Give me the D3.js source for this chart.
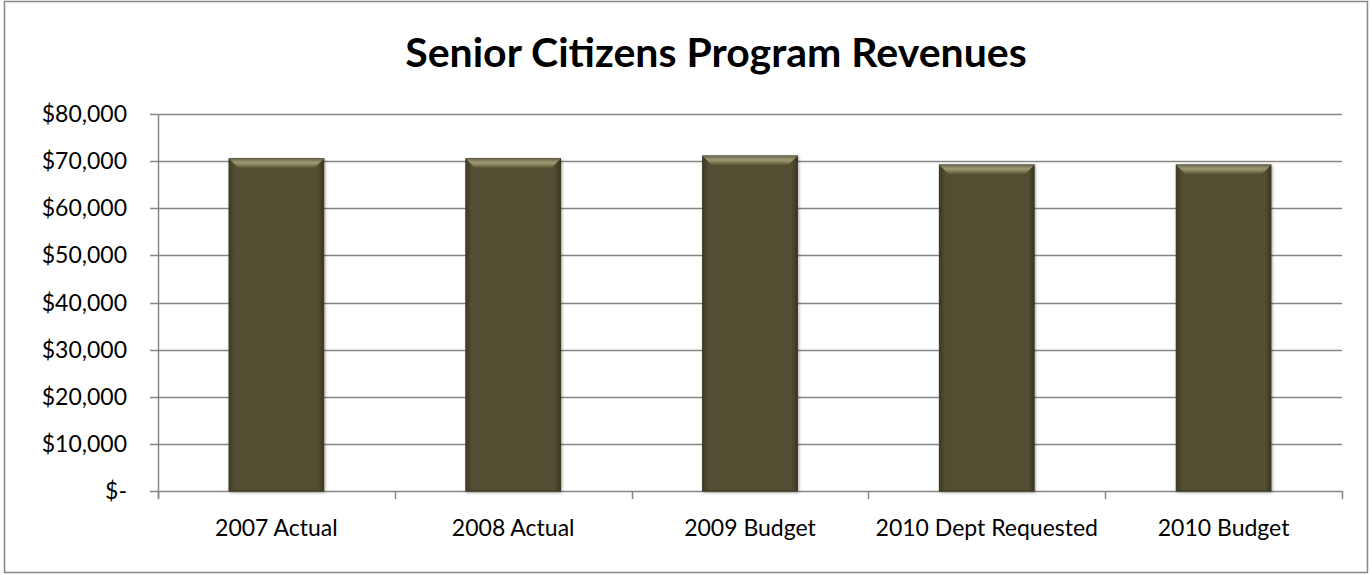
<!DOCTYPE html>
<html>
<head>
<meta charset="utf-8">
<script src="https://cdn.jsdelivr.net/npm/d3@7"></script>
<style>
  body { margin: 0; background: #fff; }
  svg { display: block; font-family: Lato, "Open Sans", sans-serif; }
</style>
</head>
<body>
<div id="chart"></div>
<script>
const categories = ["2007 Actual", "2008 Actual", "2009 Budget", "2010 Dept Requested", "2010 Budget"];
const revenues = [70500, 70500, 71100, 69200, 69200];
const yTicks = [0, 10000, 20000, 30000, 40000, 50000, 60000, 70000, 80000];

const width = 1372, height = 575;
const margin = { top: 114, right: 30, bottom: 84, left: 158 };

const svg = d3.select("#chart").append("svg")
    .attr("width", width)
    .attr("height", height);

// chart border
svg.append("rect")
    .attr("x", 4.5).attr("y", 1.5)
    .attr("width", width - 9).attr("height", height - 4)
    .attr("fill", "#fff")
    .attr("stroke", "#878787")
    .attr("stroke-width", 1.5);

svg.append("text")
    .attr("x", width / 2 + 30)
    .attr("y", 67)
    .attr("text-anchor", "middle")
    .attr("font-size", 41)
    .attr("font-weight", "bold")
    .attr("fill", "#000")
    .text("Senior Citizens Program Revenues");

const x = d3.scaleBand()
    .domain(categories)
    .range([margin.left, width - margin.right])
    .paddingInner(0.6)
    .paddingOuter(0.3);

const y = d3.scaleLinear()
    .domain([0, 80000])
    .range([height - margin.bottom, margin.top]);

// gridlines
svg.append("g")
    .selectAll("line")
    .data(yTicks)
    .join("line")
    .attr("x1", margin.left - 8)
    .attr("x2", width - margin.right)
    .attr("y1", d => Math.round(y(d)) + 0.5)
    .attr("y2", d => Math.round(y(d)) + 0.5)
    .attr("stroke", "#868686")
    .attr("stroke-width", 1.5);

// y axis line
svg.append("line")
    .attr("x1", margin.left + 0.5).attr("x2", margin.left + 0.5)
    .attr("y1", margin.top).attr("y2", y(0) + 8)
    .attr("stroke", "#868686").attr("stroke-width", 1.5);

// x ticks at category boundaries
const bounds = d3.range(categories.length + 1).map(i => margin.left + i * (width - margin.right - margin.left) / categories.length);
svg.append("g")
    .selectAll("line")
    .data(bounds)
    .join("line")
    .attr("x1", d => Math.round(d) + 0.5)
    .attr("x2", d => Math.round(d) + 0.5)
    .attr("y1", y(0))
    .attr("y2", y(0) + 8)
    .attr("stroke", "#868686")
    .attr("stroke-width", 1.5);

// y labels
svg.append("g")
    .selectAll("text")
    .data(yTicks)
    .join("text")
    .attr("x", 127)
    .attr("y", d => y(d) + 8)
    .attr("text-anchor", "end")
    .attr("font-size", 23)
    .attr("fill", "#000")
    .text(d => d === 0 ? "$-" : "$" + d3.format(",")(d));

// x labels
svg.append("g")
    .selectAll("text")
    .data(categories)
    .join("text")
    .attr("x", d => x(d) + x.bandwidth() / 2)
    .attr("y", y(0) + 45)
    .attr("text-anchor", "middle")
    .attr("font-size", 23)
    .attr("fill", "#000")
    .text(d => d);

// bar bevel gradients
const defs = svg.append("defs");
const side = defs.append("linearGradient").attr("id", "side").attr("x1", 0).attr("x2", 1);
side.append("stop").attr("offset", "0").attr("stop-color", "#3e3a24");
side.append("stop").attr("offset", "0.06").attr("stop-color", "#524d32");
side.append("stop").attr("offset", "0.94").attr("stop-color", "#524d32");
side.append("stop").attr("offset", "1").attr("stop-color", "#3a3622");
const topG = defs.append("linearGradient").attr("id", "topbevel").attr("x1", 0).attr("x2", 0).attr("y1", 0).attr("y2", 1);
topG.append("stop").attr("offset", "0").attr("stop-color", "#6e6a4c");
topG.append("stop").attr("offset", "0.45").attr("stop-color", "#a09a73");
topG.append("stop").attr("offset", "1").attr("stop-color", "#5c5739");
const shadow = defs.append("filter").attr("id", "shadow").attr("x", "-10%").attr("y", "-10%").attr("width", "130%").attr("height", "120%");
shadow.append("feDropShadow").attr("dx", 1).attr("dy", 1).attr("stdDeviation", 1.5).attr("flood-color", "#000").attr("flood-opacity", 0.35);

const bars = svg.append("g")
    .selectAll("g")
    .data(categories.map((c, i) => ({ cat: c, value: revenues[i] })))
    .join("g");

bars.append("rect")
    .attr("x", d => x(d.cat))
    .attr("y", d => y(d.value))
    .attr("width", x.bandwidth())
    .attr("height", d => y(0) - y(d.value))
    .attr("fill", "url(#side)")
    .attr("stroke", "#3a3622")
    .attr("stroke-width", 1)
    .attr("filter", "url(#shadow)");

// top bevel
bars.append("path")
    .attr("d", d => {
        const x0 = x(d.cat), x1 = x0 + x.bandwidth(), t = y(d.value), b = 9;
        return `M${x0},${t}L${x1},${t}L${x1 - b},${t + b}L${x0 + b},${t + b}Z`;
    })
    .attr("fill", "url(#topbevel)");
</script>
</body>
</html>
